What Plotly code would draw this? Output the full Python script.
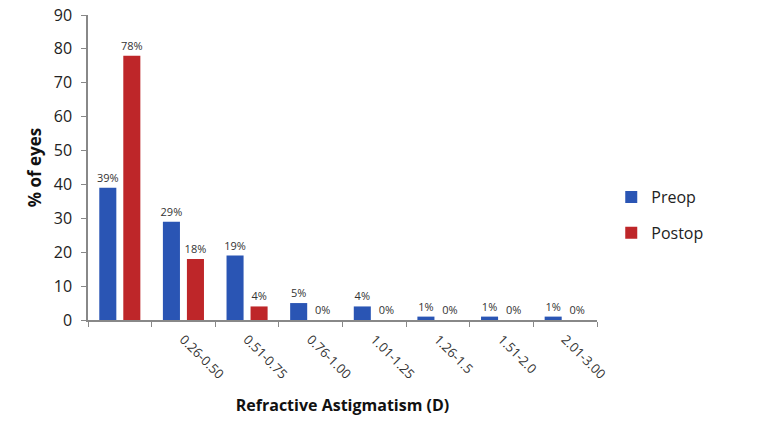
import plotly.graph_objects as go

categories = [" ", "0.26-0.50", "0.51-0.75", "0.76-1.00", "1.01-1.25", "1.26-1.5", "1.51-2.0", "2.01-3.00"]
preop = [39, 29, 19, 5, 4, 1, 1, 1]
postop = [78, 18, 4, 0, 0, 0, 0, 0]

blue = "#2A55B4"
red = "#BE2629"
font_family = "Open Sans, Liberation Sans, Arial, sans-serif"

fig = go.Figure()
fig.add_trace(go.Bar(x=categories, y=preop, name="Preop", legendgroup="a",
                     marker=dict(color=blue, line=dict(width=0)),
                     texttemplate="%{y}%", textposition="outside", constraintext="none",
                     textfont=dict(size=11, color="#333333"), cliponaxis=False))
fig.add_trace(go.Bar(x=categories, y=postop, name="Postop", legendgroup="b",
                     marker=dict(color=red, line=dict(width=0)),
                     texttemplate="%{y}%", textposition="outside", constraintext="none",
                     textfont=dict(size=11, color="#333333"), cliponaxis=False))

fig.update_layout(
    width=780, height=433,
    margin=dict(l=88, r=183, t=15, b=113, autoexpand=False),
    paper_bgcolor="white", plot_bgcolor="white",
    font=dict(family=font_family, color="#222222"),
    barmode="group", bargap=0.245, bargroupgap=0.29,
    showlegend=True,
    legend=dict(x=1.028, y=0.344, xanchor="left", yanchor="middle",
                font=dict(size=16, color="#222222"), tracegroupgap=12,
                traceorder="grouped",
                itemsizing="constant", bgcolor="rgba(0,0,0,0)"),
    xaxis=dict(
        type="category", tickangle=45, tickfont=dict(size=13, color="#333333"),
        showline=True, linecolor="#888888", linewidth=1.5, automargin=False,
        ticks="outside", ticklen=5, tickcolor="#888888", tickson="boundaries",
        ticklabelstandoff=5,
        showgrid=False,
        title=dict(text="<b>Refractive Astigmatism (D)</b>", font=dict(size=16, color="#111111"), standoff=18),
    ),
    yaxis=dict(
        range=[0, 90], dtick=10, tickfont=dict(size=16, color="#222222"),
        showline=True, linecolor="#888888", linewidth=1.5, automargin=False,
        ticks="outside", ticklen=5, tickcolor="#888888", ticklabelstandoff=6,
        showgrid=False, zeroline=False,
        title=dict(text="<b>% of eyes</b>", font=dict(size=17, color="#111111"), standoff=8),
    ),
)

fig.write_html("out.html", config={"displayModeBar": False},
               post_script="document.body.style.margin='0';")
